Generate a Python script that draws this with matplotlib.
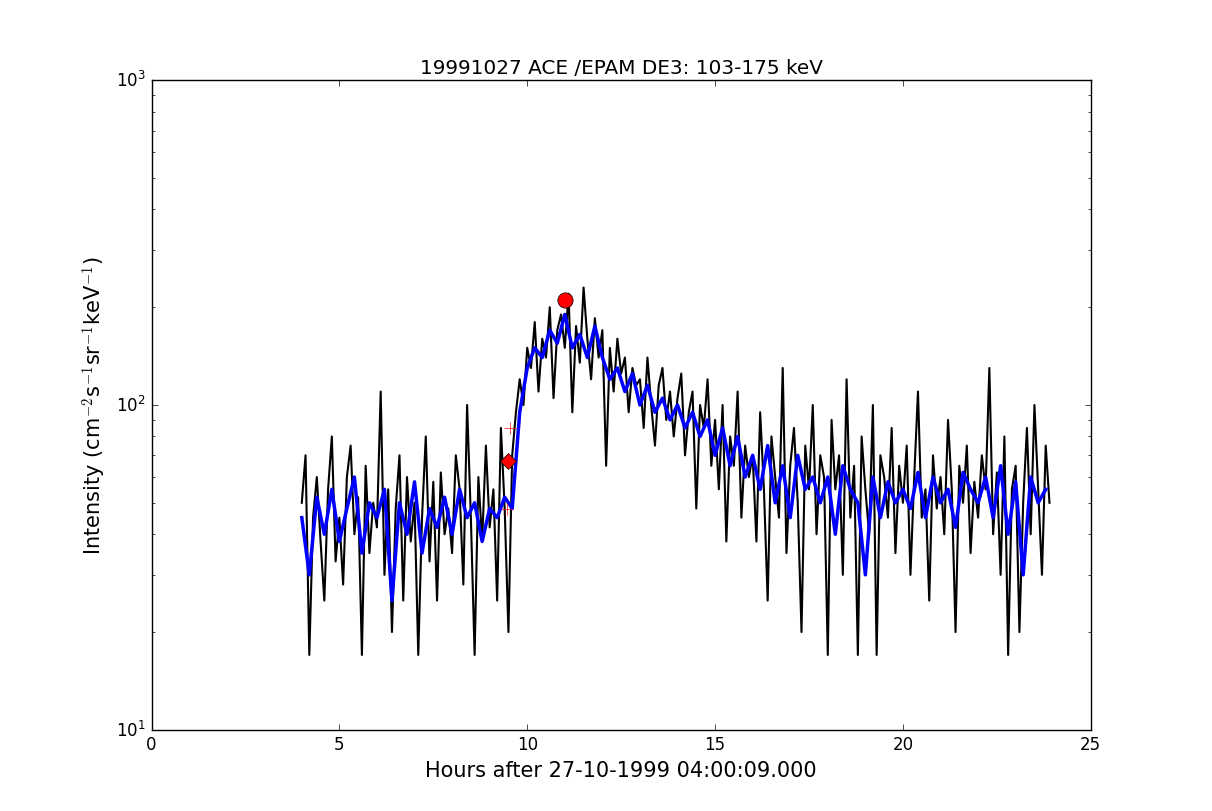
import numpy as np
import matplotlib
matplotlib.use('Agg')
import matplotlib.pyplot as plt
plt.style.use('classic')

black_start, black_step = 4.0, 0.1
black_vals = [50,70,17,45,60,38,25,55,80,33,
45,28,60,75,40,52,17,65,35,50,
42,110,30,55,20,48,70,25,60,38,
50,17,45,80,33,58,25,62,40,48,
35,70,55,28,100,45,17,60,38,75,
42,55,25,85,48,20,70,95,120,100,
150,130,180,110,160,140,200,105,170,190,
150,220,95,175,135,230,160,120,185,140,
170,65,150,110,160,125,140,95,130,115,
120,85,140,100,75,115,130,90,110,80,
105,125,70,95,110,48,100,85,120,65,
90,55,100,38,80,65,110,45,75,60,
70,38,95,55,25,80,60,45,130,35,
65,85,50,20,75,55,100,40,70,60,
17,90,55,70,30,120,45,65,17,80,
55,40,100,17,70,60,45,85,35,65,
50,75,30,60,110,45,55,25,70,48,
60,40,90,55,20,65,50,75,35,58,
45,70,55,130,40,62,30,80,17,55,
65,20,50,85,40,100,55,30,75,50]
blue_start, blue_step = 4.0, 0.2
blue_vals = [45,30,52,40,55,38,48,60,35,50,
45,55,25,50,40,58,35,48,42,52,
40,55,45,50,38,48,45,52,48,95,
130,150,140,170,155,190,150,165,140,175,
140,120,130,110,125,100,115,95,105,90,
100,85,95,80,90,70,85,65,80,60,
70,55,75,50,65,45,70,55,60,50,
60,40,65,55,50,30,60,45,58,50,
55,48,62,45,60,50,55,42,62,55,
50,60,45,65,40,58,30,60,50,55]
peak_t, peak_v = [11.0], [210]
onset_t, onset_v = [9.5], [67]
plus_t, plus_v = [9.45, 9.55], [48, 85]

bt = black_start + black_step*np.arange(len(black_vals))
ut = blue_start + blue_step*np.arange(len(blue_vals))

fig = plt.figure(figsize=(12.12, 8.12), dpi=100)
ax = fig.add_axes([0.125, 0.1, 0.775, 0.8])
ax.plot(bt, black_vals, color='k', lw=1.5)
ax.plot(ut, blue_vals, color='b', lw=2.5)
ax.plot(plus_t, plus_v, 'r+', ms=8)
ax.plot(onset_t, onset_v, 'rD', ms=8)
ax.plot(peak_t, peak_v, 'ro', ms=11)
ax.set_yscale('log')
ax.set_ylim(10, 1000)
ax.set_xlim(0, 25)
ax.set_title('19991027 ACE /EPAM DE3: 103-175 keV')
ax.set_xlabel('Hours after 27-10-1999 04:00:09.000', fontsize=15)
ax.set_ylabel(r'Intensity (cm$^{-2}$s$^{-1}$sr$^{-1}$keV$^{-1}$)', fontsize=15)
fig.savefig('out.png', dpi=100)
